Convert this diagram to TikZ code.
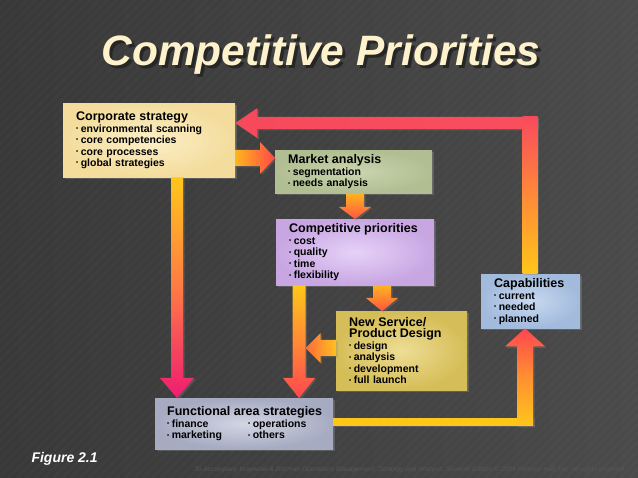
\documentclass[tikz,border=0pt]{standalone}
\usepackage{fontspec}
\setmainfont{Liberation Sans}
\usetikzlibrary{calc,shadows}
\definecolor{bgL}{HTML}{383838}
\definecolor{bgR}{HTML}{4A4A4A}
\definecolor{titlecream}{HTML}{FDF2CC}
\definecolor{corpIn}{HTML}{FCEFC8}
\definecolor{corpOut}{HTML}{F3DC9C}
\definecolor{markIn}{HTML}{CBD4AF}
\definecolor{markOut}{HTML}{B1BE92}
\definecolor{compIn}{HTML}{E6D2F8}
\definecolor{compOut}{HTML}{C8A6E2}
\definecolor{newIn}{HTML}{EEDD95}
\definecolor{newOut}{HTML}{D5BD57}
\definecolor{capIn}{HTML}{C8D9F0}
\definecolor{capOut}{HTML}{A2BADC}
\definecolor{funIn}{HTML}{D3D5E3}
\definecolor{funOut}{HTML}{A6ABC2}
\definecolor{ayellow}{HTML}{FFC61A}
\definecolor{aorange}{HTML}{FF8A30}
\definecolor{ared}{HTML}{F84A5C}
\definecolor{apink}{HTML}{EE1C72}
\definecolor{ared2}{HTML}{FF4650}
\definecolor{aorangeA}{HTML}{FFB41E}
\definecolor{aredA}{HTML}{FF4848}
\definecolor{ayellowB}{HTML}{FFB420}
\definecolor{aredB}{HTML}{FF5540}
\definecolor{amidC}{HTML}{FF7A45}
\definecolor{amidD}{HTML}{FF8A35}
\definecolor{aorangeE}{HTML}{FF6A38}
\definecolor{ayellowE}{HTML}{FFC020}
\definecolor{amidF}{HTML}{FF9030}
\definecolor{aredG}{HTML}{F64A5C}
\definecolor{aredH}{HTML}{F94E5E}
\definecolor{amidI}{HTML}{FF8A38}
\definecolor{footgray}{HTML}{575757}
\newcommand\bl{\raisebox{1.8pt}{\fontsize{6}{6}\selectfont•}\hspace{2.5pt}}
\newcommand\hd{\fontsize{12.5}{13.5}\selectfont}
% vertical fat arrow: #1 options, #2 start, #3 tip, #4 shaft half width, #5 head half width, #6 head length
\newcommand\varrow[6]{\shade[#1] let \p1=(#2), \p2=(#3), \n1={sign(\y2-\y1)*#6} in
  (\x1-#4,\y1) -- (\x1-#4,\y2-\n1) -- (\x1-#5,\y2-\n1) -- (\x1,\y2) -- (\x1+#5,\y2-\n1) -- (\x1+#4,\y2-\n1) -- (\x1+#4,\y1) -- cycle;}
% horizontal fat arrow
\newcommand\harrow[6]{\shade[#1] let \p1=(#2), \p2=(#3), \n1={sign(\x2-\x1)*#6} in
  (\x1,\y1-#4) -- (\x2-\n1,\y1-#4) -- (\x2-\n1,\y1-#5) -- (\x2,\y1) -- (\x2-\n1,\y1+#5) -- (\x2-\n1,\y1+#4) -- (\x1,\y1+#4) -- cycle;}
\begin{document}
\begin{tikzpicture}[x=1pt,y=-1pt,
  box/.style={anchor=north west, inner xsep=13pt, inner ysep=0pt, align=left,
    font=\fontsize{10.5}{11.5}\selectfont\bfseries, text=black,
    drop shadow={opacity=0.45, shadow xshift=2pt, shadow yshift=-2pt}},
  arrowsh/.style={drop shadow={opacity=0.35, shadow xshift=1.5pt, shadow yshift=-1.5pt}}]
\useasboundingbox (0,0) rectangle (638,478);
% background
\shade[left color=bgL, right color=bgR] (0,0) rectangle (638,478);
\begin{scope}
\clip (0,0) rectangle (638,478);
\foreach \i in {0,9,...,1130} \draw[white, opacity=0.018, line width=3pt] (\i-478,478) -- (\i,0);
\end{scope}
% title (with its shadow in the same node)
\node[anchor=base, font=\fontsize{42.5}{42.5}\selectfont\bfseries\itshape, text=titlecream] (title) at (321,66)
  {\makebox[0pt][l]{\hspace{3pt}\raisebox{-3pt}{\color{black!85}Competitive Priorities}}Competitive Priorities};
% boxes
\node[box, inner color=corpIn, outer color=corpOut, text width=146pt, minimum height=74pt] (corp) at (63,103)
  {{\hd Corporate strategy}\\[0.5pt] \bl environmental scanning\\ \bl core competencies\\ \bl core processes\\ \bl global strategies};
\node[box, inner color=markIn, outer color=markOut, text width=131pt, minimum height=43pt] (market) at (275,150)
  {{\hd Market analysis}\\[0.5pt] \bl segmentation\\ \bl needs analysis};
\node[box, inner color=compIn, outer color=compOut, text width=132pt, minimum height=66pt] (comp) at (276,219)
  {{\hd Competitive priorities}\\[0.5pt] \bl cost\\ \bl quality\\ \bl time\\ \bl flexibility};
\node[box, inner color=newIn, outer color=newOut, text width=105pt, minimum height=79pt] (new) at (336,311)
  {{\hd New Service/\\[-0.5pt] Product Design}\\[0.5pt] \bl design\\ \bl analysis\\ \bl development\\ \bl full launch};
\node[box, inner color=capIn, outer color=capOut, text width=73pt, minimum height=54pt] (cap) at (481,274)
  {{\hd Capabilities}\\[0.5pt] \bl current\\ \bl needed\\ \bl planned};
\node[box, inner color=funIn, outer color=funOut, inner xsep=12pt, text width=154pt, minimum height=51pt] (fun) at (155,398)
  {{\hd\mbox{Functional area strategies}}\\[0.5pt] \makebox[81pt][l]{\bl finance}\bl operations\\ \makebox[81pt][l]{\bl marketing}\bl others};
% connectors
\coordinate (merge) at (305.5,348);
\coordinate (bl) at (525,422);
\coordinate (tl) at (530,123);
\harrow{left color=aorangeA, right color=aredA, arrowsh}{corp.east |- 0,158}{market.west |- 0,158}{8pt}{16pt}{15}
\varrow{top color=ayellowB, bottom color=aredB, arrowsh}{market.south -| 355,0}{comp.north -| 355,0}{9pt}{16pt}{12}
\varrow{top color=ayellowB, bottom color=aredB, arrowsh}{comp.south -| 382,0}{new.north -| 382,0}{9pt}{16pt}{13}
\varrow{top color=ayellow, bottom color=apink, middle color=amidC, arrowsh}{corp.south -| 177,0}{fun.north -| 177,0}{6pt}{17pt}{20}
\varrow{top color=ayellow, bottom color=ared2, middle color=amidD, arrowsh}{comp.south -| 299,0}{fun.north -| 299,0}{6.5pt}{16pt}{20}
\harrow{left color=aorangeE, right color=ayellowE, arrowsh}{new.west |- merge}{merge}{8pt}{15pt}{15}
% lower loop
\fill[ayellow, arrowsh] (fun.east |- 0,418) rectangle ($(bl)+(8,4)$);
\varrow{bottom color=ayellow, top color=ared2, middle color=amidF, arrowsh}{$(bl)+(0,4)$}{cap.south -| bl}{8pt}{20pt}{18}
% upper loop
\harrow{left color=aredG, right color=aredH, arrowsh}{$(tl)+(7.5,0)$}{corp.east |- tl}{6pt}{15pt}{22}
\shade[bottom color=ayellow, top color=ared, middle color=amidI, arrowsh] ($(cap.north -| tl)+(-7.5,0)$) rectangle ($(tl)+(7.5,-6)$);
% captions
\node[anchor=base west, font=\fontsize{14}{14}\selectfont\bfseries\itshape, text=white] (fig) at (28,463) {Figure 2.1};
\node[anchor=base east, font=\fontsize{6.6}{7}\selectfont\itshape, text=footgray] (foot) at (630,472) {To Accompany Krajewski \& Ritzman Operations Management: Strategy and Analysis, Seventh Edition © 2004 Prentice Hall, Inc. All rights reserved.};
\end{tikzpicture}
\end{document}
